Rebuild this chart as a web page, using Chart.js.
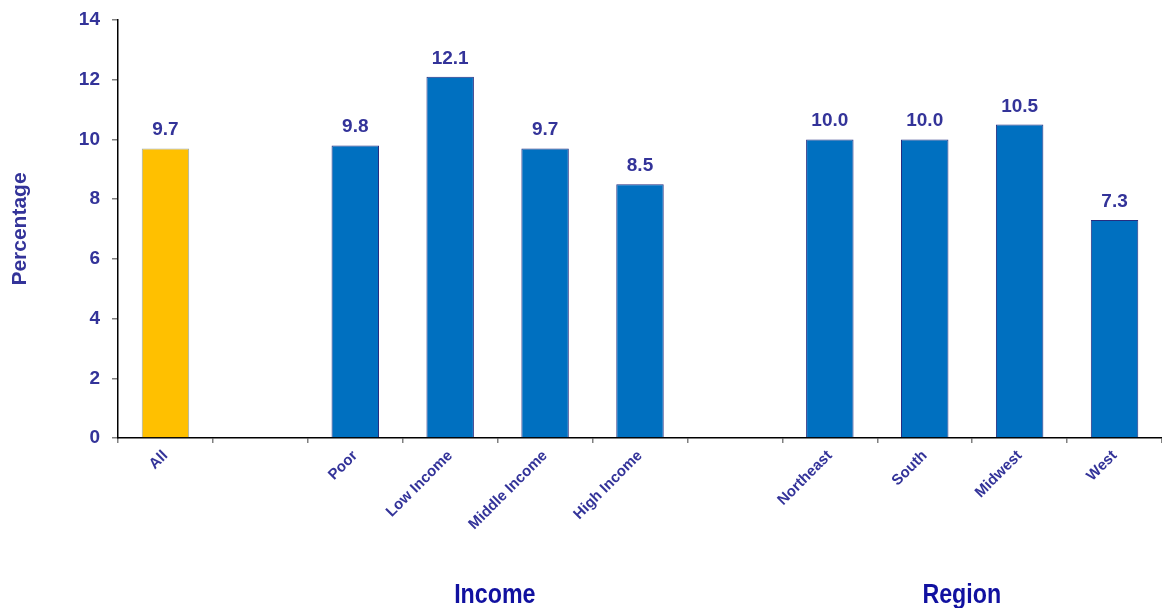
<!DOCTYPE html>
<html>
<head>
<meta charset="utf-8">
<script src="https://cdn.jsdelivr.net/npm/chart.js@4/dist/chart.umd.min.js"></script>
<style>
  html, body { margin: 0; padding: 0; background: #fff; }
  #wrap { width: 1162px; height: 608px; }
</style>
</head>
<body>
<div id="wrap"><canvas id="chart" width="1162" height="608"></canvas></div>
<script>
// categories, with blank slots as gaps between groups
var categories = ["All", "", "Poor", "Low Income", "Middle Income", "High Income", "", "Northeast", "South", "Midwest", "West"];
var percentages = [9.7, null, 9.8, 12.1, 9.7, 8.5, null, 10.0, 10.0, 10.5, 7.3];
var yTicks = [0, 2, 4, 6, 8, 10, 12, 14];
var groupNames = ["Income", "Region"];
var groupCenters = [3.47, 8.39]; // in category slots

var textColor = "#333399";
var fills = percentages.map(function (v, i) { return i === 0 ? "#FFC000" : "#0070C0"; });
var borders = percentages.map(function (v, i) { return i === 0 ? "#9AAAB0" : "#262D80"; });

// value labels above bars
var valueLabels = {
  id: "valueLabels",
  afterDatasetsDraw: function (chart) {
    var ctx = chart.ctx;
    var meta = chart.getDatasetMeta(0);
    ctx.save();
    ctx.font = "bold 19px 'Liberation Sans', Arial, sans-serif";
    ctx.fillStyle = textColor;
    ctx.textAlign = "center";
    ctx.textBaseline = "alphabetic";
    meta.data.forEach(function (bar, i) {
      var v = percentages[i];
      if (v === null) return;
      ctx.fillText(v.toFixed(1), bar.x, bar.y - 13);
    });
    ctx.restore();
  }
};

// group titles under the axis (narrow bold look)
var groupLabels = {
  id: "groupLabels",
  afterDraw: function (chart) {
    var ctx = chart.ctx;
    var area = chart.chartArea;
    var slot = (area.right - area.left) / categories.length;
    ctx.save();
    ctx.font = "bold 27px 'Liberation Sans', Arial, sans-serif";
    ctx.fillStyle = "#1111A0";
    ctx.textAlign = "center";
    ctx.textBaseline = "middle";
    groupNames.forEach(function (name, i) {
      var cx = area.left + (groupCenters[i] + 0.5) * slot;
      ctx.save();
      ctx.translate(cx, 596);
      ctx.scale(0.86, 1);
      ctx.fillText(name, 0, 0);
      ctx.restore();
    });
    ctx.restore();
  }
};

var ctx = document.getElementById("chart").getContext("2d");
var chart = new Chart(ctx, {
  type: "bar",
  data: {
    labels: categories,
    datasets: [
      {
        data: percentages,
        backgroundColor: fills,
        borderColor: borders,
        borderWidth: 1,
        borderSkipped: "bottom",
        barPercentage: 0.5,
        categoryPercentage: 1.0
      }
    ]
  },
  options: {
    responsive: false,
    animation: false,
    layout: { padding: { top: 20, left: 0, right: 0, bottom: 0 } },
    plugins: {
      legend: { display: false },
      tooltip: { enabled: false }
    },
    scales: {
      x: {
        offset: true,
        afterFit: function (scale) {
          scale.height = 170;
          scale.paddingLeft = 0;
          scale.paddingRight = 0;
        },
        grid: {
          offset: true,
          drawOnChartArea: false,
          drawTicks: true,
          tickLength: 5,
          lineWidth: 1.5,
          color: "#808080"
        },
        border: { display: true, color: "#000000", width: 1.5 },
        ticks: {
          minRotation: 45,
          maxRotation: 45,
          autoSkip: false,
          padding: 4,
          color: textColor,
          font: { family: "'Liberation Sans', Arial, sans-serif", size: 15, weight: "bold" }
        }
      },
      y: {
        min: 0,
        max: 14,
        afterFit: function (scale) {
          scale.width = 118;
          scale.paddingTop = 0;
          scale.paddingBottom = 0;
        },
        afterBuildTicks: function (scale) {
          scale.ticks = yTicks.map(function (v) { return { value: v }; });
        },
        grid: {
          drawOnChartArea: false,
          drawTicks: true,
          tickLength: 6,
          lineWidth: 1.5,
          color: "#808080"
        },
        border: { display: true, color: "#000000", width: 1.5 },
        ticks: {
          padding: 12,
          color: textColor,
          font: { family: "'Liberation Sans', Arial, sans-serif", size: 19, weight: "bold" }
        },
        title: {
          display: true,
          text: "Percentage",
          color: textColor,
          padding: { top: 8, bottom: 6 },
          font: { family: "'Liberation Sans', Arial, sans-serif", size: 21, weight: "bold" }
        }
      }
    }
  },
  plugins: [valueLabels, groupLabels]
});
</script>
</body>
</html>
